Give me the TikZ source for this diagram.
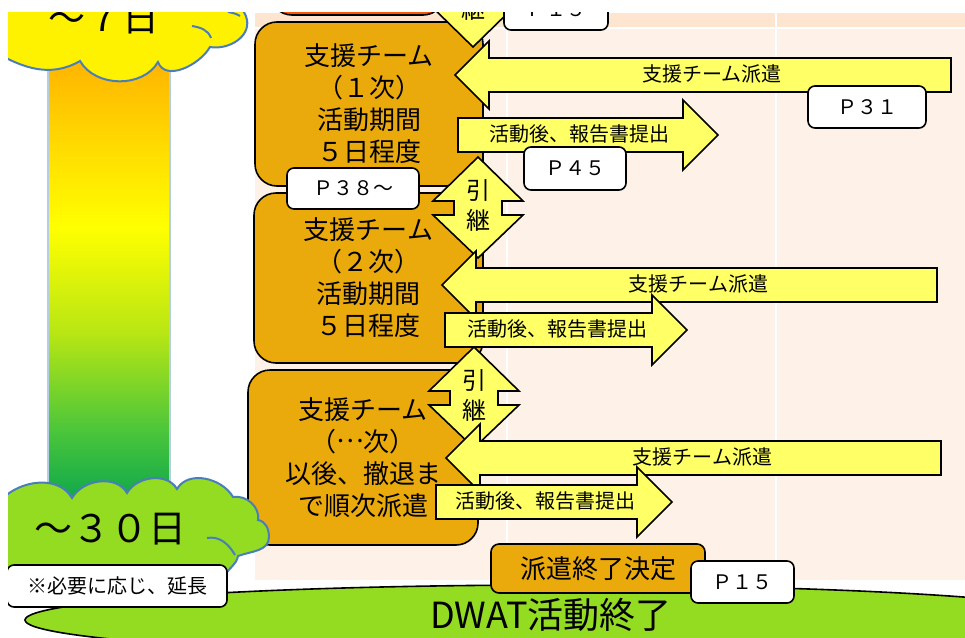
\documentclass[tikz,border=0pt]{standalone}
\usepackage{fontspec}
\setmainfont{Noto Sans CJK JP}
\usepackage{tikz}
\usetikzlibrary{positioning}

\definecolor{peach}{HTML}{FEF2E8}
\definecolor{peachband}{HTML}{FDE5CF}
\definecolor{teamorange}{HTML}{EBAA0C}
\definecolor{topred}{HTML}{F55A0C}
\definecolor{arrowyellow}{HTML}{FFFF66}
\definecolor{endgreen}{HTML}{93DC22}
\definecolor{cloudline}{HTML}{4A7EBB}
\definecolor{barA}{HTML}{FFB400}
\definecolor{barB}{HTML}{FFFF00}
\definecolor{barC}{HTML}{B8E614}
\definecolor{barD}{HTML}{4CC63A}
\definecolor{barE}{HTML}{0EA84C}
\definecolor{barline}{HTML}{B4CDE6}

\pgfdeclareverticalshading{daybar}{100bp}{color(0bp)=(barE); color(25bp)=(barE); color(33bp)=(barD); color(44bp)=(barC); color(56bp)=(barB); color(75bp)=(barA); color(100bp)=(barA)}

\tikzset{
  teambox/.style={draw, line width=1.6pt, fill=teamorange, rounded corners=22pt, align=center, font=\fontsize{26}{32}\selectfont, inner sep=0pt},
  pagebox/.style={draw, line width=1.6pt, fill=white, rounded corners=7pt, font=\fontsize{20}{20}\selectfont, inner sep=0pt},
  yshape/.style={draw, line width=1.6pt, fill=arrowyellow, line join=miter},
  arrowtext/.style={font=\fontsize{20}{20}\selectfont, inner sep=0pt},
  handtext/.style={font=\fontsize{24}{30}\selectfont, align=center, inner sep=0pt},
  cloudshape/.style={draw=cloudline, line width=2pt},
}

\begin{document}
\begin{tikzpicture}[x=1pt, y=-1pt]
  \useasboundingbox (0,0) rectangle (965,637);
  \fill[white] (0,0) rectangle (965,637);
  \begin{scope}
    \clip (8,12) rectangle (965,637);
    % background of the time table
    \fill[peach] (255,13) rectangle (965,580);
    \fill[peachband] (255,13) rectangle (965,27);
    \draw[white, line width=2pt] (255,28) -- (965,28) (507,13) -- (507,580) (776,13) -- (776,580);
    % day bar
    \shade[shading=daybar] (48,60) rectangle (170,500);
    \draw[barline, line width=1.5pt] (48,60) rectangle (170,500);

    \filldraw[fill=topred, line width=1.6pt, rounded corners=22pt] (270,-60) rectangle (445,15);
    \node[teambox, minimum width=228pt, minimum height=164pt] (team1) at (369,104) {支援チーム\\（１次）\\活動期間\\５日程度};
    \node[teambox, minimum width=229pt, minimum height=170pt] (team2) at (368.5,278) {支援チーム\\（２次）\\活動期間\\５日程度};
    \node[teambox, minimum width=230pt, minimum height=175pt] (team3) at (363,457.5) {支援チーム\\（\raisebox{0.33em}{…}次）\\以後、撤退ま\\で順次派遣};

    % handover
    \filldraw[yshape] (473,47) -- (428,3) -- (428,-10) -- (518,-10) -- (518,3) -- cycle;
    \node[handtext] (hand0) at (473,9) {継};
    \foreach \cx/\ty/\n in {478/157/1, 474/347/2} {
      \filldraw[yshape] (\cx,\ty) -- (\cx+45,\ty+44) -- (\cx+24,\ty+44) -- (\cx+24,\ty+58) -- (\cx+45,\ty+58)
        -- (\cx,\ty+101) -- (\cx-45,\ty+58) -- (\cx-24,\ty+58) -- (\cx-24,\ty+44) -- (\cx-45,\ty+44) -- cycle;
      \node[handtext] (hand\n) at (\cx,\ty+48) {引\\継};
    }

    % dispatch and report arrows
    \foreach \tip/\ty/\tail/\n in {455/75/951/1, 442/285/937/2, 446/458/941/3} {
      \filldraw[yshape] (\tip,\ty) -- ++(34,-34) -- ++(0,17) -- (\tail,\ty-17) -- (\tail,\ty+17)
        -- (\tip+34,\ty+17) -- ++(0,17) -- cycle;
      \node[arrowtext] (send\n) at ({(\tip+34+\tail)/2-8},\ty-1) {支援チーム派遣};
    }
    \foreach \tl/\ty/\hb/\n in {458/135/683/1, 445/330/652/2, 436/502/637/3} {
      \filldraw[yshape] (\tl,\ty-17) -- (\hb,\ty-17) -- (\hb,\ty-35) -- (\hb+35,\ty) -- (\hb,\ty+35)
        -- (\hb,\ty+17) -- (\tl,\ty+17) -- cycle;
      \node[arrowtext] (report\n) at ({(\tl+\hb)/2+9},\ty-1) {活動後、報告書提出};
    }

    \node[pagebox, minimum width=104pt, minimum height=42pt] (ptop) at (556,9) {Ｐ１５};
    \node[pagebox, minimum width=132pt, minimum height=41pt] (p38) at (353,188.5) {Ｐ３８～};
    \node[pagebox, minimum width=118pt, minimum height=42pt] (p31) at (867,107) {Ｐ３１};
    \node[pagebox, minimum width=102pt, minimum height=43pt] (p45) at (575,168.5) {Ｐ４５};

    % end of activity
    \filldraw[fill=endgreen, line width=1.6pt] (560,620) ellipse [x radius=535, y radius=35];
    \node[font=\fontsize{36}{36}\selectfont, inner sep=0pt] (dwatend) at (551,615) {DWAT活動終了};

    % clouds
    \filldraw[fill=yellow, cloudshape] (-5,-10) -- (-5,52) to[out=-30,in=-150] (80,61) to[out=-60,in=-120] (158,62)
      to[out=-70,in=-120] (210,47) to[out=-10,in=-80] (247,20) to[out=100,in=-20] (225,0) -- (225,-10) -- cycle;
    \draw[cloudshape] (192,26) to[out=-10,in=110] (211,38);
    \draw[cloudshape] (228,12) to[out=-10,in=150] (240,16);
    \node[font=\fontsize{37}{37}\selectfont, inner sep=0pt] (week) at (104,18) {～７日};

    \filldraw[fill=endgreen, cloudshape] (-5,508) to[out=60,in=120] (72,498) to[out=60,in=120] (127,493)
      to[out=60,in=120] (177,489) to[out=60,in=120] (233,497) to[out=10,in=80] (258,520)
      to[out=-10,in=90] (269,537) to[out=-90,in=20] (238,556) to[out=-100,in=60] (225,575)
      -- (225,600) -- (-5,600) -- cycle;
    \draw[cloudshape] (207,538) to[out=10,in=120] (235,555);
    \node[font=\fontsize{38}{38}\selectfont, inner sep=0pt] (month) at (110,529) {～３０日};

    \node[pagebox, minimum width=220pt, minimum height=42pt] (extend) at (117,586) {※必要に応じ、延長};
    \node[teambox, rounded corners=8pt, font=\fontsize{26}{26}\selectfont, minimum width=214pt, minimum height=49pt] (decide) at (598,568.5) {派遣終了決定};
    \node[pagebox, minimum width=103pt, minimum height=42pt] (p15) at (742.5,582) {Ｐ１５};
  \end{scope}
\end{tikzpicture}
\end{document}
